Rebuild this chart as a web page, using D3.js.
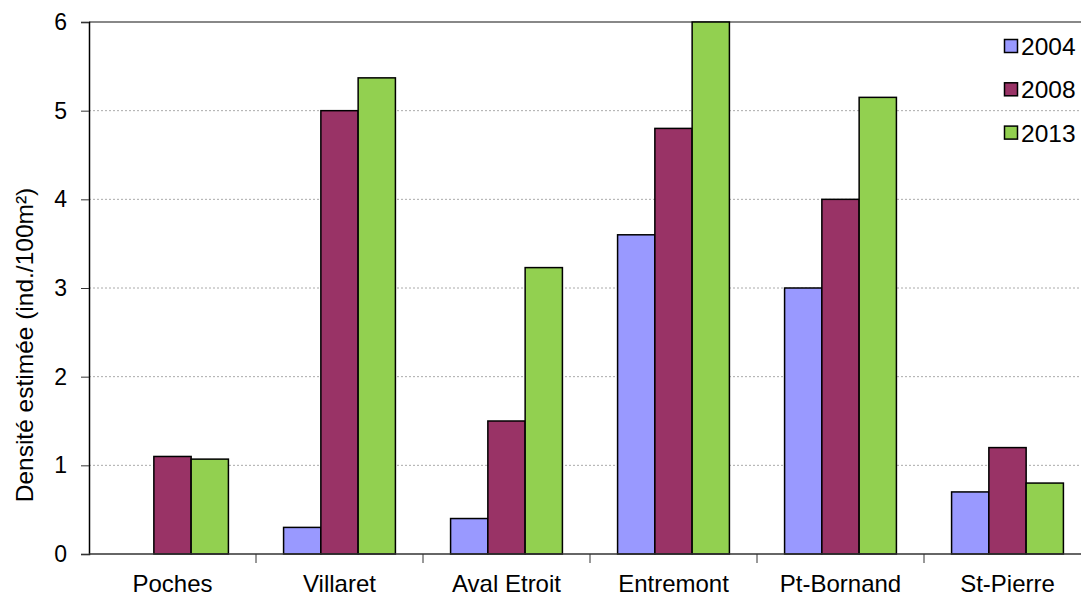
<!DOCTYPE html>
<html><head><meta charset="utf-8">
<script src="https://cdn.jsdelivr.net/npm/d3@7/dist/d3.min.js"></script>
<style>body{margin:0;background:#fff}svg{display:block;font-family:"Liberation Sans",Arial,sans-serif}</style>
</head><body><svg id="c" width="1081" height="598"></svg>
<script>
const categories = ["Poches","Villaret","Aval Etroit","Entremont","Pt-Bornand","St-Pierre"];
const seriesNames = ["2004","2008","2013"];
const v2004 = [0, 0.3, 0.4, 3.6, 3.0, 0.7];
const v2008 = [1.1, 5.0, 1.5, 4.8, 4.0, 1.2];
const v2013 = [1.07, 5.37, 3.23, 6.0, 5.15, 0.8];
const yTicks = [0,1,2,3,4,5,6];
const colors = ["#9999FF","#993366","#92D050"];
const series = [v2004, v2008, v2013];

const FONT = "Liberation Sans, Arial, sans-serif";
const svg = d3.select("#c");
const L = 89, R = 1091, T = 22, B = 554;
const x = d3.scaleBand().domain(categories).range([L, R]);
const xs = d3.scaleBand().domain(seriesNames).range([0, x.bandwidth()]).paddingOuter(0.74).paddingInner(0);
const y = d3.scaleLinear().domain([0, 6]).range([B, T]);

// gridlines
svg.append("g").selectAll("line").data(yTicks.filter(t => t > 0 && t < 6)).join("line")
  .attr("x1", L).attr("x2", 1081).attr("y1", d => y(d)).attr("y2", d => y(d))
  .attr("stroke", "#aaa").attr("stroke-width", 1).attr("stroke-dasharray", "2,2");
svg.append("line").attr("x1", L).attr("x2", 1081).attr("y1", y(6)).attr("y2", y(6))
  .attr("stroke", "#888").attr("stroke-width", 2);

// bars
const g = svg.append("g");
categories.forEach((c, i) => {
  series.forEach((s, j) => {
    if (s[i] <= 0) return;
    g.append("rect")
      .attr("x", x(c) + xs(seriesNames[j]))
      .attr("y", y(s[i]))
      .attr("width", xs.bandwidth())
      .attr("height", y(0) - y(s[i]))
      .attr("fill", colors[j]).attr("stroke", "#000").attr("stroke-width", 1.5);
  });
});

// y axis
const ya = svg.append("g").attr("transform", `translate(${L},0)`)
  .call(d3.axisLeft(y).tickValues(yTicks).tickSize(8).tickPadding(14).tickFormat(d3.format("d")));
ya.select(".domain").attr("stroke", "#000").attr("stroke-width", 1.5);
ya.selectAll(".tick line").attr("stroke", "#333");
ya.selectAll("text").attr("font-size", 23).attr("fill", "#000").attr("font-family", FONT);

// x axis
const xa = svg.append("g").attr("transform", `translate(0,${B})`)
  .call(d3.axisBottom(x).tickSize(0));
xa.select(".domain").remove();
xa.selectAll("text").attr("font-size", 24).attr("fill", "#000").attr("font-family", FONT)
  .attr("dy", null).attr("y", 38);
svg.append("line").attr("x1", L).attr("x2", 1081).attr("y1", B).attr("y2", B).attr("stroke", "#333").attr("stroke-width", 1.5);
svg.append("g").selectAll("line").data(categories.slice(1)).join("line")
  .attr("x1", d => x(d)).attr("x2", d => x(d)).attr("y1", B).attr("y2", B + 9)
  .attr("stroke", "#333").attr("stroke-width", 1);

// y label
svg.append("text").attr("transform", `translate(33,345) rotate(-90)`)
  .attr("text-anchor", "middle").attr("font-size", 24.5).attr("font-family", FONT)
  .text("Densité estimée (ind./100m²)");

// legend
const lg = svg.append("g");
seriesNames.forEach((n, j) => {
  const cy = 46 + j * 43.3;
  lg.append("rect").attr("x", 1004.5).attr("y", cy - 6.5).attr("width", 13).attr("height", 13)
    .attr("fill", colors[j]).attr("stroke", "#000").attr("stroke-width", 1.5);
  lg.append("text").attr("x", 1021).attr("y", cy + 9).attr("font-size", 24.5).attr("font-family", FONT).text(n);
});
</script></body></html>
